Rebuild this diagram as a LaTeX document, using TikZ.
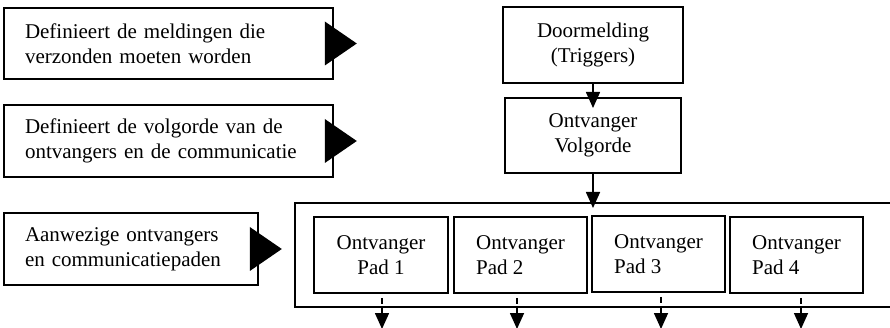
\documentclass[tikz,border=0pt]{standalone}
\usepackage{fontspec}
\setmainfont{Liberation Serif}
\usetikzlibrary{arrows.meta,calc}
\begin{document}
\begin{tikzpicture}[x=1pt,y=-1pt,
  box/.style={draw, line width=1.6pt, inner sep=0pt, font=\fontsize{21}{25}\selectfont},
  lbox/.style={box, align=left, inner xsep=21pt},
  cbox/.style={box, align=center},
  padbox/.style={box, minimum width=133pt, minimum height=76pt},
  arr/.style={line width=1.6pt, -{Triangle[width=14pt,length=16pt]}},
  darr/.style={line width=1.6pt, dash pattern=on 6pt off 4pt, dash phase=6pt, -{Triangle[width=14pt,length=16pt]}},
  tri/.style={fill=black}
]
\useasboundingbox (0,0) rectangle (890,328);
\fill[white] (0,0) rectangle (890,328);
\clip (0,0) rectangle (890,328);

% left description boxes
\node[lbox, minimum width=329pt, minimum height=71pt, text width=287pt] (b1) at (168.5,43.5)
  {Definieert de meldingen die\\verzonden moeten worden};
\node[lbox, minimum width=329pt, minimum height=72pt, text width=287pt] (b2) at (168.5,141)
  {Definieert de volgorde van de\\ontvangers en de communicatie};
\node[lbox, minimum width=254pt, minimum height=72pt, text width=212pt] (b3) at (131,249)
  {Aanwezige ontvangers\\en communicatiepaden};

% pointer triangles
\foreach \b in {b1,b2,b3}{
  \fill[tri] ($(\b.east)+(-9,-22)$) -- ($(\b.east)+(-9,22)$) -- ($(\b.east)+(23,0)$) -- cycle;
}

% right column
\node[cbox, minimum width=180pt, minimum height=76pt] (door) at (593,45)
  {Doormelding\\(Triggers)};
\node[cbox, minimum width=176pt, minimum height=75pt] (volg) at (593,135.5)
  {Ontvanger\\Volgorde};

\node[draw, line width=1.6pt, minimum width=610pt, minimum height=104pt, inner sep=0pt] (outer) at (600,255) {};

\node[padbox, align=center, minimum width=134pt] (p1) at (381,255) {Ontvanger\\Pad 1};
\node[padbox, align=left] (p2) at (520.5,255) {Ontvanger\\Pad 2};
\node[padbox, align=left] (p3) at (658.5,254) {Ontvanger\\Pad 3};
\node[padbox, align=left] (p4) at (796.5,255) {Ontvanger\\Pad 4};

% connectors
\coordinate (t1) at (593,108);
\draw[arr] (door.south) -- (t1);
\coordinate (t2) at (593,208);
\draw[arr] (volg.south) -- (t2);

\coordinate (d1) at (382,329);
\coordinate (d2) at (517,329);
\coordinate (d3) at (661,329);
\coordinate (d4) at (801,329);
\draw[darr] (p1.south -| d1) -- (d1);
\draw[darr] (p2.south -| d2) -- (d2);
\draw[darr] (p3.south -| d3) -- (d3);
\draw[darr] (p4.south -| d4) -- (d4);
\end{tikzpicture}
\end{document}
